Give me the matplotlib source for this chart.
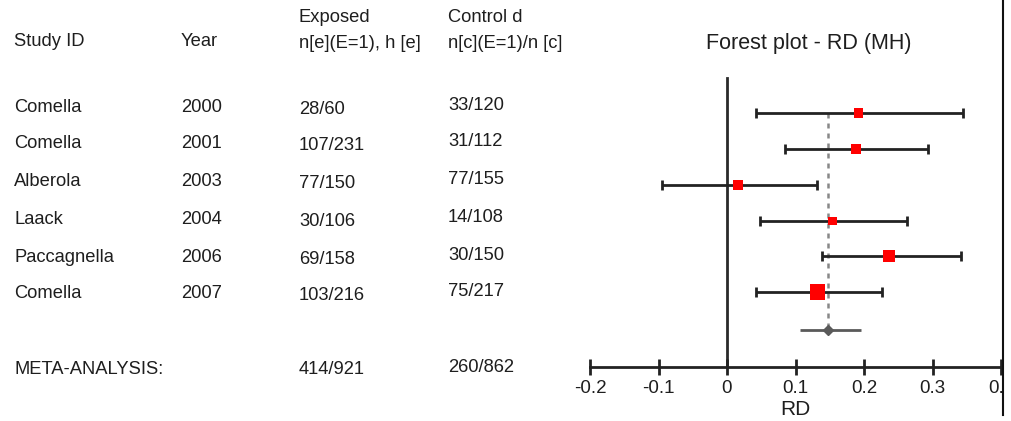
import matplotlib
matplotlib.use("Agg")
import matplotlib.pyplot as plt
from matplotlib.patches import Rectangle

plt.rcParams["font.family"] = ["Liberation Sans", "DejaVu Sans"]

# ---- data -------------------------------------------------------------
studies = ["Comella", "Comella", "Alberola", "Laack", "Paccagnella", "Comella"]
years = [2000, 2001, 2003, 2004, 2006, 2007]
exp_events = [28, 107, 77, 30, 69, 103]
exp_total = [60, 231, 150, 106, 158, 216]
ctl_events = [33, 31, 77, 14, 30, 75]
ctl_total = [120, 112, 155, 108, 150, 217]

rd = [0.192, 0.188, 0.016, 0.154, 0.237, 0.132]
rd_lo = [0.042, 0.084, -0.095, 0.048, 0.138, 0.042]
rd_hi = [0.345, 0.294, 0.131, 0.263, 0.341, 0.227]

pooled_rd = 0.148
pooled_lo = 0.106
pooled_hi = 0.195

x_ticks = [-0.2, -0.1, 0, 0.1, 0.2, 0.3, 0.4]

# ---- layout (pixel rows) ----------------------------------------------
W, H = 1011, 421
row_y = [113, 149, 185, 221, 256, 292]
text_y = [108, 144, 181, 220, 257, 294]
summary_y = 330
axis_y = 367
marker_px = [9.5, 9.5, 9.5, 8.5, 12, 15.5]
col_x = [14, 181, 299, 448]
ink = "#1e1e1e"
fs = 13.2

fig = plt.figure(figsize=(W / 100, H / 100), dpi=100)

# forest panel
ax = fig.add_axes([590 / W, 0, (1001 - 590) / W, 1])
ax.set_xlim(-0.2, 0.4)
ax.set_ylim(H, 0)
ax.patch.set_visible(False)
for s in ["top", "left", "right"]:
    ax.spines[s].set_visible(False)
ax.spines["bottom"].set_position(("data", axis_y))
ax.spines["bottom"].set_bounds(-0.2, 0.4)
ax.spines["bottom"].set_linewidth(2)
ax.spines["bottom"].set_color("#222222")
ax.set_yticks([])
ax.set_xticks(x_ticks)
ax.set_xticklabels([f"{t:g}" for t in x_ticks])
ax.tick_params(axis="x", direction="inout", length=11, width=2,
               color="#222222", labelsize=13.5, labelcolor=ink, pad=4)
ax.set_xlabel("RD", fontsize=15, color=ink)
ax.xaxis.set_label_coords(0.5, (H - 400) / H)

# line of no effect
ax.plot([0, 0], [78, axis_y], color="#2a2a2a", lw=2, zorder=1)

# pooled estimate reference line
ax.plot([pooled_rd, pooled_rd], [row_y[0], summary_y], color="#888888",
        lw=1.8, ls=(0, (2, 2)), zorder=1)

# study confidence intervals and point estimates
xerr = [[r - l for r, l in zip(rd, rd_lo)], [h - r for r, h in zip(rd, rd_hi)]]
ax.errorbar(rd, row_y, xerr=xerr, fmt="none", ecolor="#222222",
            elinewidth=2, capsize=3.8, capthick=2, zorder=2)
ax.scatter(rd, row_y, marker="s", s=[(p * 0.72) ** 2 for p in marker_px],
           color="#ff0000", linewidths=0, zorder=3)

# pooled estimate
ax.errorbar([pooled_rd], [summary_y],
            xerr=[[pooled_rd - pooled_lo], [pooled_hi - pooled_rd]],
            fmt="D", color="#5a5a5a", ecolor="#5a5a5a", elinewidth=2,
            markersize=5, capsize=0, zorder=2)

# table panel (pixel coordinates), drawn on top
tab = fig.add_axes([0, 0, 1, 1])
tab.set_xlim(0, W)
tab.set_ylim(H, 0)
tab.axis("off")
tab.patch.set_visible(False)
tab.set_zorder(5)

kw = dict(fontsize=fs, color=ink, va="center", ha="left")
tab.text(col_x[0], 42, "Study ID", **kw)
tab.text(col_x[1], 42, "Year", **kw)
tab.text(col_x[2], 18, "Exposed", **kw)
tab.text(col_x[2], 44, "n[e](E=1), h [e]", **kw)
tab.text(col_x[3], 18, "Control d", **kw)
tab.text(col_x[3], 44, "n[c](E=1)/n [c]", **kw)
tab.text(809, 43, "Forest plot - RD (MH)", fontsize=15.5, color=ink,
         va="center", ha="center")

for i, y in enumerate(text_y):
    tab.text(col_x[0], y, studies[i], **kw)
    tab.text(col_x[1], y, str(years[i]), **kw)
    tab.text(col_x[2], y + 2, f"{exp_events[i]}/{exp_total[i]}", **kw)
    tab.text(col_x[3], y - 2, f"{ctl_events[i]}/{ctl_total[i]}", **kw)

tab.text(col_x[0], 370, "META-ANALYSIS:", **kw)
tab.text(col_x[2], 370, f"{sum(exp_events)}/{sum(exp_total)}", **kw)
tab.text(col_x[3], 368, f"{sum(ctl_events)}/{sum(ctl_total)}", **kw)

# right frame edge
tab.add_patch(Rectangle((1003.5, 0), W - 1003.5, H, color="white", lw=0))
tab.plot([1002.5, 1002.5], [0, 415], color="#111111", lw=1.5)

fig.savefig("out.png", dpi=100, facecolor="white")
